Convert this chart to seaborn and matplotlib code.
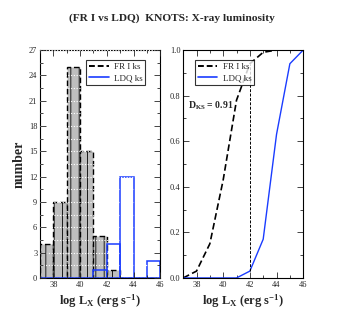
import numpy as np
import pandas as pd
import seaborn as sns
import matplotlib
matplotlib.use("Agg")
import matplotlib.pyplot as plt
from matplotlib.ticker import MultipleLocator
from matplotlib.lines import Line2D

# ---- data ----
bin_edges = [37, 38, 39, 40, 41, 42, 43, 44, 45, 46]
bin_centers = [37.5, 38.5, 39.5, 40.5, 41.5, 42.5, 43.5, 44.5, 45.5]
fr1_counts = [4, 9, 25, 15, 5, 1, 0, 0, 0]
ldq_counts = [0, 0, 0, 0, 1, 4, 12, 0, 2]

cdf_x = [37, 38, 39, 40, 41, 42, 43, 44, 45, 46]
fr1_cdf = [0.0, 0.03, 0.15, 0.43, 0.78, 0.94, 0.99, 1.0, 1.0, 1.0]
ldq_cdf = [0.0, 0.0, 0.0, 0.0, 0.0, 0.03, 0.17, 0.63, 0.94, 1.0]
d_ks_x = 42
d_ks_label = "D$_{KS}$ = 0.91"

title = "(FR I vs LDQ)  KNOTS: X-ray luminosity"
xlabel = "log L$_X$ (erg s$^{-1}$)"
ylabel = "number"
series_labels = ["FR I ks", "LDQ ks"]

sns.set_style("white")
plt.rcParams["font.family"] = ["Liberation Serif", "DejaVu Serif"]
plt.rcParams["mathtext.default"] = "regular"
plt.rcParams["hatch.linewidth"] = 0.6
plt.rcParams["hatch.color"] = "#444444"

fig = plt.figure(figsize=(3.43, 3.27), dpi=100)
ax1 = fig.add_axes([0.117, 0.150, 0.350, 0.697])
ax2 = fig.add_axes([0.534, 0.150, 0.350, 0.697])

blue = "#1a3cff"

df = pd.DataFrame({"x": bin_centers, "fr1": fr1_counts, "ldq": ldq_counts})

sns.histplot(data=df, x="x", weights="fr1", bins=bin_edges, ax=ax1,
             color="#bebebe", alpha=1, edgecolor="black", linewidth=1.0,
             linestyle=(0, (4, 2)), hatch="||", element="bars", fill=True)
sns.histplot(data=df, x="x", weights="ldq", bins=bin_edges, ax=ax1,
             fill=False, color=blue, edgecolor=blue, linewidth=1.1, element="bars")

h = [Line2D([0], [0], color="black", lw=1.4, ls=(0, (3, 1.5))),
     Line2D([0], [0], color=blue, lw=1.2)]

ax1.set_xlim(37, 46)
ax1.set_ylim(0, 27)
ax1.yaxis.set_major_locator(MultipleLocator(3))
ax1.yaxis.set_minor_locator(MultipleLocator(1.5))
ax1.grid(axis="y", which="both", color="white", linestyle=(0, (1, 1.5)), linewidth=0.8)
ax1.set_axisbelow(False)
ax1.set_ylabel(ylabel, fontsize=10, fontweight="bold", labelpad=2)
leg1 = ax1.legend(h, series_labels, loc="upper right", bbox_to_anchor=(0.915, 0.975),
                  fontsize=6.5, frameon=True, fancybox=False, handlelength=2.2,
                  borderpad=0.3, labelspacing=0.3, handletextpad=0.6)
leg1.get_frame().set_edgecolor("black")
leg1.get_frame().set_linewidth(0.8)

lines_df = pd.DataFrame({"x": cdf_x, "fr1": fr1_cdf, "ldq": ldq_cdf})
sns.lineplot(data=lines_df, x="x", y="fr1", ax=ax2, color="black", lw=1.2,
             linestyle=(0, (4, 2)))
sns.lineplot(data=lines_df, x="x", y="ldq", ax=ax2, color=blue, lw=1.0)
i = cdf_x.index(d_ks_x)
ax2.vlines(d_ks_x, ldq_cdf[i], fr1_cdf[i], color="black", lw=0.7, linestyles=(0, (3, 1.5)))
ax2.set_xlim(37, 46)
ax2.set_ylim(0, 1)
ax2.yaxis.set_major_locator(MultipleLocator(0.2))
ax2.yaxis.set_minor_locator(MultipleLocator(0.1))
ax2.set_ylabel("")
ax2.text(0.04, 0.755, d_ks_label, transform=ax2.transAxes, fontsize=7,
         fontweight="bold", va="center")
leg2 = ax2.legend(h, series_labels, loc="upper left", bbox_to_anchor=(0.06, 0.975),
                  fontsize=6.5, frameon=True, fancybox=False, handlelength=2.2,
                  borderpad=0.3, labelspacing=0.3, handletextpad=0.6)
leg2.get_frame().set_edgecolor("black")
leg2.get_frame().set_linewidth(0.8)

for ax in (ax1, ax2):
    ax.xaxis.set_major_locator(MultipleLocator(2))
    ax.xaxis.set_minor_locator(MultipleLocator(1))
    ax.tick_params(which="both", direction="in", top=True, right=True,
                   bottom=True, left=True, labelsize=6, pad=2)
    ax.tick_params(which="major", length=4, width=0.6)
    ax.tick_params(which="minor", length=2, width=0.6)
    ax.set_xlabel(xlabel, fontsize=9, fontweight="bold", labelpad=3)
    for s in ax.spines.values():
        s.set_visible(True)
        s.set_color("black")
        s.set_linewidth(0.8)

fig.text(0.5, 0.945, title, ha="center", va="center", fontsize=8.2, fontweight="bold")

fig.savefig("out.png", dpi=100, facecolor="white")
